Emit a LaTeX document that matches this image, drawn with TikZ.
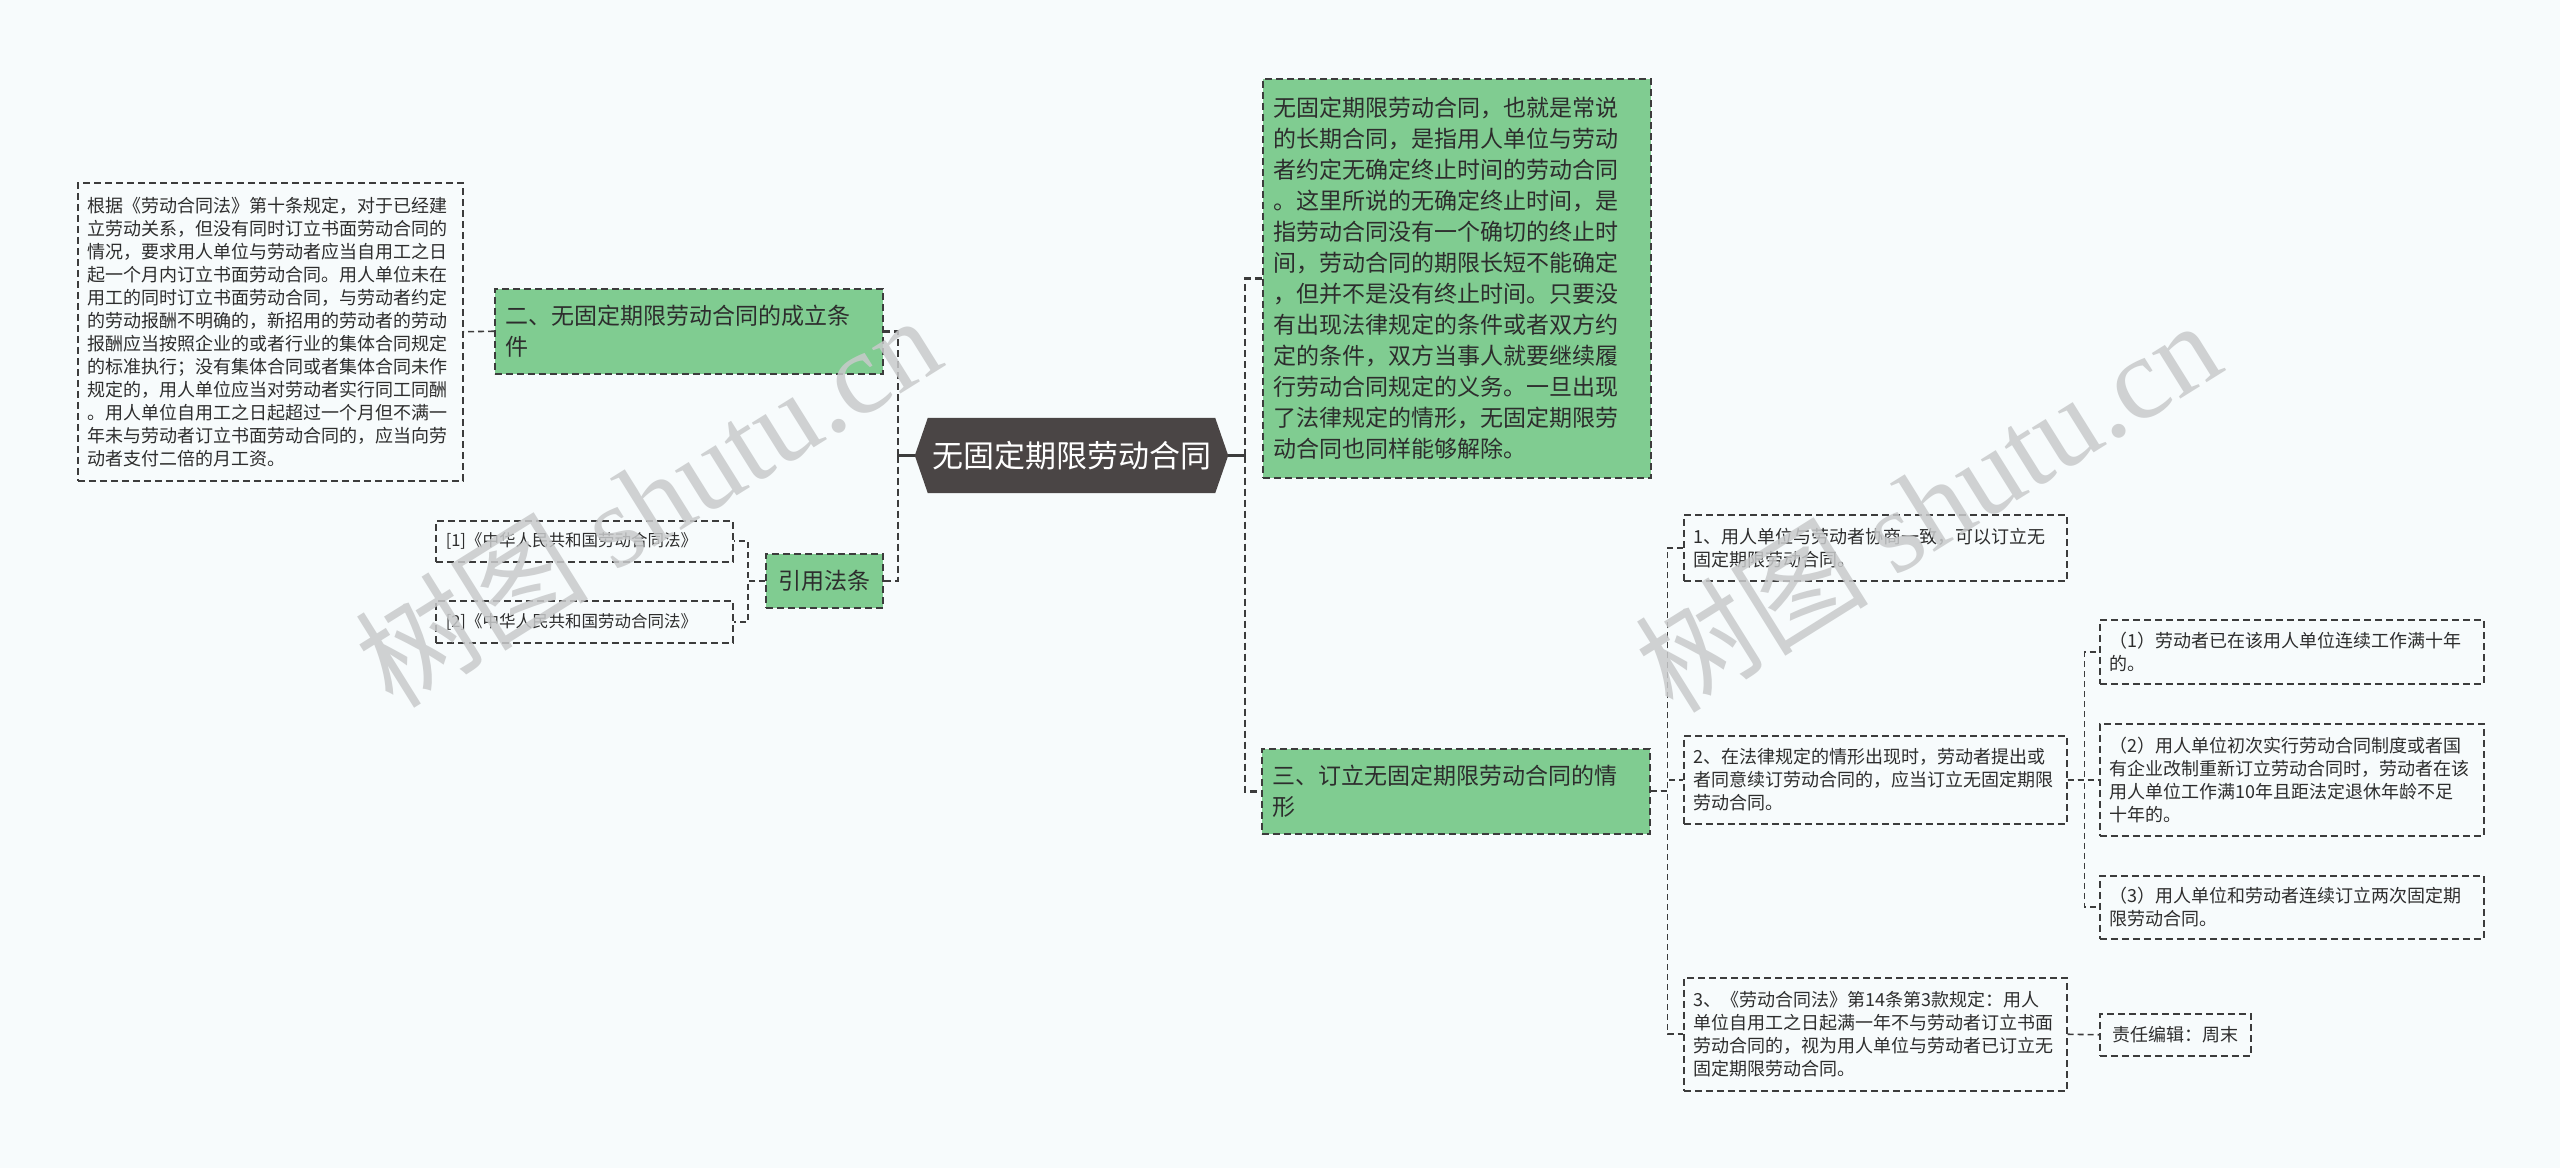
\documentclass[tikz,border=0pt]{standalone}
\usepackage{fontspec}
\setmainfont{Noto Sans CJK SC}
\newfontfamily\wmfont{Liberation Serif}
\usepackage{xcolor}
\usepackage{tikz}
\usetikzlibrary{positioning,calc,backgrounds}
\definecolor{paper}{RGB}{247,251,252}
\definecolor{topicgreen}{RGB}{128,204,145}
\definecolor{rootgray}{RGB}{74,69,69}
\definecolor{edgegray}{RGB}{60,60,60}
\definecolor{inkdark}{RGB}{45,45,45}
\definecolor{wmgray}{RGB}{200,202,203}

\begin{document}
\begin{tikzpicture}[
  x=1pt, y=-1pt,
  topic/.style={draw=edgegray, fill=topicgreen, dash pattern=on 7pt off 4pt, line width=1.5pt,
                anchor=north west, align=left, inner xsep=11pt, inner ysep=0pt, text=inkdark,
                font=\fontsize{23}{31}\selectfont},
  leaf/.style={draw=edgegray, dash pattern=on 7pt off 4pt, line width=1.5pt,
               anchor=north west, align=left, inner xsep=10pt, inner ysep=0pt, text=inkdark,
               font=\fontsize{18}{23}\selectfont},
  root/.style={text=white, minimum width=313pt, minimum height=75pt, inner sep=0pt,
               font=\fontsize{31}{36}\selectfont},
  stem/.style={edgegray, line width=2.5pt},
  trunk/.style={edgegray, line width=2.5pt, dash pattern=on 7pt off 4pt},
  link/.style={edgegray, line width=1.6pt, dash pattern=on 6pt off 4pt},
  wmark/.style={text=wmgray, opacity=0.85, font=\fontsize{117}{120}\selectfont, inner sep=0pt},
]
\useasboundingbox (0,0) rectangle (2560,1168);

% centre topic
\node[root] (root) at (1071.5,455.5) {无固定期限劳动合同};

% left branch
\node[topic, text width=366pt, minimum height=85pt] (B1) at (494,288)
  {二、无固定期限劳动合同的成立条\\件};
\node[leaf, text width=365pt, minimum height=298pt] (L1) at (77,182)
  {根据《劳动合同法》第十条规定，对于已经建\\
   立劳动关系，但没有同时订立书面劳动合同的\\
   情况，要求用人单位与劳动者应当自用工之日\\
   起一个月内订立书面劳动合同。用人单位未在\\
   用工的同时订立书面劳动合同，与劳动者约定\\
   的劳动报酬不明确的，新招用的劳动者的劳动\\
   报酬应当按照企业的或者行业的集体合同规定\\
   的标准执行；没有集体合同或者集体合同未作\\
   规定的，用人单位应当对劳动者实行同工同酬\\
   。用人单位自用工之日起超过一个月但不满一\\
   年未与劳动者订立书面劳动合同的，应当向劳\\
   动者支付二倍的月工资。};
\node[topic, minimum width=117pt, minimum height=54pt, align=center] (Q) at (765,553) {引用法条};
\node[leaf, text width=277pt, minimum height=41pt, font=\fontsize{16.5}{20}\selectfont] (C1) at (435,520)
  {[1]《中华人民共和国劳动合同法》};
\node[leaf, text width=277pt, minimum height=42pt, font=\fontsize{16.5}{20}\selectfont] (C2) at (435,600)
  {[2]《中华人民共和国劳动合同法》};

% right branch
\node[topic, text width=366pt, minimum height=399pt] (G1) at (1262,78)
  {无固定期限劳动合同，也就是常说\\
   的长期合同，是指用人单位与劳动\\
   者约定无确定终止时间的劳动合同\\
   。这里所说的无确定终止时间，是\\
   指劳动合同没有一个确切的终止时\\
   间，劳动合同的期限长短不能确定\\
   ，但并不是没有终止时间。只要没\\
   有出现法律规定的条件或者双方约\\
   定的条件，双方当事人就要继续履\\
   行劳动合同规定的义务。一旦出现\\
   了法律规定的情形，无固定期限劳\\
   动合同也同样能够解除。};
\node[topic, text width=366pt, minimum height=85pt] (B3) at (1261,748)
  {三、订立无固定期限劳动合同的情\\形};

\node[leaf, text width=363pt, minimum height=66pt] (R1) at (1683,514)
  {1、用人单位与劳动者协商一致，可以订立无\\固定期限劳动合同。};
\node[leaf, text width=363pt, minimum height=88pt] (R2) at (1683,735)
  {2、在法律规定的情形出现时，劳动者提出或\\者同意续订劳动合同的，应当订立无固定期限\\劳动合同。};
\node[leaf, text width=363pt, minimum height=113pt] (R3) at (1683,977)
  {3、《劳动合同法》第14条第3款规定：用人\\单位自用工之日起满一年不与劳动者订立书面\\劳动合同的，视为用人单位与劳动者已订立无\\固定期限劳动合同。};

\node[leaf, text width=364pt, minimum height=64pt] (S1) at (2099,619)
  {（1）劳动者已在该用人单位连续工作满十年\\的。};
\node[leaf, text width=364pt, minimum height=112pt] (S2) at (2099,723)
  {（2）用人单位初次实行劳动合同制度或者国\\有企业改制重新订立劳动合同时，劳动者在该\\用人单位工作满10年且距法定退休年龄不足\\十年的。};
\node[leaf, text width=364pt, minimum height=63pt] (S3) at (2099,875)
  {（3）用人单位和劳动者连续订立两次固定期\\限劳动合同。};
\node[leaf, minimum width=151pt, minimum height=42pt] (E) at (2099,1013) {责任编辑：周末};

% page and hexagon behind everything
\begin{scope}[on background layer]
  \fill[paper] (0,0) rectangle (2560,1168);
  \fill[rootgray] (root.west) -- ($(root.north west)+(13,0)$) -- ($(root.north east)+(-13,0)$)
    -- (root.east) -- ($(root.south east)+(-13,0)$) -- ($(root.south west)+(13,0)$) -- cycle;
\end{scope}

% connectors
\draw[stem] (root.west) -- ++(-17,0) coordinate (tl);
\draw[stem] (root.east) -- ++(17,0) coordinate (tr);
\foreach \c in {B1,Q}{ \draw[trunk] (tl) |- (\c.east); }
\foreach \c in {G1,B3}{ \draw[trunk] (tr) |- (\c.west); }
\draw[link] (B1.west) -- (L1.east);
\foreach \c in {C1,C2}{ \draw[link] (Q.west) -- ++(-17,0) |- (\c.east); }
\foreach \c in {R1,R2,R3}{ \draw[link] (B3.east) -- ++(17,0) |- (\c.west); }
\foreach \c in {S1,S2,S3}{ \draw[link] (R2.east) -- ++(17,0) |- (\c.west); }
\draw[link] (R3.east) -- (E.west);

% watermark
\node[wmark, rotate=32] (wm1) at (647,500) {树图 {\wmfont shutu.cn}};
\node[wmark, rotate=32] (wm2) at (1927,505) {树图 {\wmfont shutu.cn}};
\end{tikzpicture}
\end{document}
